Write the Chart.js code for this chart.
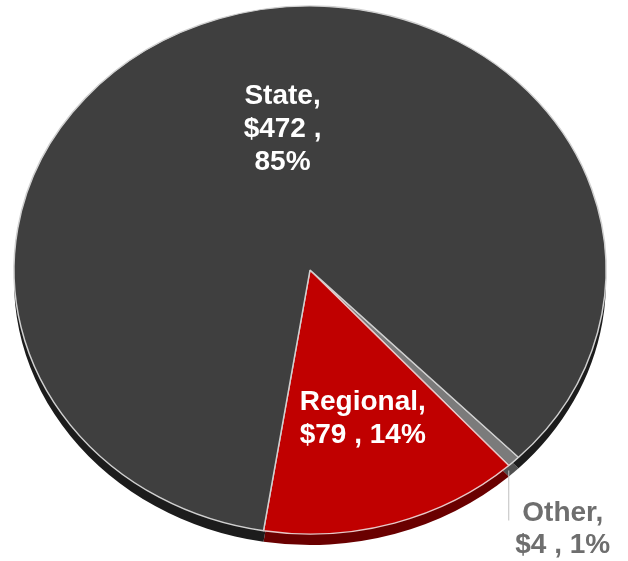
<!DOCTYPE html>
<html>
<head>
<meta charset="utf-8">
<script src="https://cdn.jsdelivr.net/npm/chart.js@4"></script>
<style>
  html, body { margin: 0; padding: 0; background: #fff; }
  #wrap { width: 628px; height: 561px; }
</style>
</head>
<body>
<div id="wrap"><canvas id="pie" width="628" height="561"></canvas></div>
<script>
// Data (clockwise order as drawn)
const categories = ['Other', 'Regional', 'State'];
const amounts = [4, 79, 472];
const sliceColors = ['#7b7b7b', '#c00000', '#3f3f3f'];
const sideColors = ['#505050', '#6a0000', '#1c1c1c'];

const total = amounts.reduce((a, b) => a + b, 0);
const percents = amounts.map(v => Math.round(v / total * 100) + '%');

// tilt + depth for the 3D look
const tilt = 0.892;
const depth = 11;

// label placement per slice (style only)
const labelStyle = [
  { outside: true, color: '#6e6e6e', nudge: 0 },
  { outside: false, color: '#ffffff', frac: 0.59, nudge: -1, lines: i => [categories[i] + ',', '$' + amounts[i] + ' , ' + percents[i]] },
  { outside: false, color: '#ffffff', frac: 0.54, nudge: 8, lines: i => [categories[i] + ',', '$' + amounts[i] + ' ,', percents[i]] }
];

const tiltPlugin = {
  id: 'tilt',
  beforeDatasetsDraw(chart) {
    const ctx = chart.ctx;
    const arcs = chart.getDatasetMeta(0).data;
    const cx = arcs[0].x, cy = arcs[0].y;
    ctx.save();
    ctx.translate(cx, cy);
    ctx.scale(1, tilt);
    ctx.translate(-cx, -cy);
    // side walls
    arcs.forEach((arc, i) => {
      const d = depth / tilt;
      ctx.beginPath();
      ctx.moveTo(arc.x, arc.y + d);
      ctx.arc(arc.x, arc.y + d, arc.outerRadius, arc.startAngle, arc.endAngle);
      ctx.closePath();
      ctx.fillStyle = sideColors[i];
      ctx.fill();
    });
  },
  afterDatasetsDraw(chart) {
    const ctx = chart.ctx;
    ctx.restore();
    const arcs = chart.getDatasetMeta(0).data;
    ctx.save();
    ctx.font = 'bold 28px "Liberation Sans", Arial, sans-serif';
    ctx.textAlign = 'center';
    ctx.textBaseline = 'middle';
    arcs.forEach((arc, i) => {
      const st = labelStyle[i];
      const mid = (arc.startAngle + arc.endAngle) / 2 + st.nudge * Math.PI / 180;
      ctx.fillStyle = st.color;
      if (st.outside) {
        const ex = arc.x + Math.cos(mid) * arc.outerRadius - 5;
        const ey = arc.y + Math.sin(mid) * arc.outerRadius * tilt + depth - 2;
        ctx.strokeStyle = '#bfbfbf';
        ctx.lineWidth = 1;
        ctx.beginPath();
        ctx.moveTo(ex, ey);
        ctx.lineTo(ex, ey + 50);
        ctx.stroke();
        ctx.fillText(categories[i] + ',', ex + 54, ey + 43);
        ctx.fillText('$' + amounts[i] + ' , ' + percents[i], ex + 54, ey + 75);
      } else {
        const r = arc.outerRadius * st.frac;
        const px = arc.x + Math.cos(mid) * r;
        const py = arc.y + Math.sin(mid) * r * tilt;
        const lines = st.lines(i);
        const lh = 33;
        lines.forEach((t, k) => {
          ctx.fillText(t, px, py + (k - (lines.length - 1) / 2) * lh);
        });
      }
    });
    ctx.restore();
  }
};

new Chart(document.getElementById('pie'), {
  type: 'pie',
  data: {
    labels: categories,
    datasets: [{
      data: amounts,
      backgroundColor: sliceColors,
      borderColor: ['#d9d9d9', '#e8c8c8', '#d0d0d0'],
      borderWidth: 1.5
    }]
  },
  options: {
    responsive: false,
    animation: false,
    rotation: 135.2,
    radius: 296,
    layout: { padding: { left: 0, right: 8, top: 0, bottom: 21 } },
    plugins: {
      legend: { display: false },
      tooltip: { enabled: false }
    }
  },
  plugins: [tiltPlugin]
});
</script>
</body>
</html>
